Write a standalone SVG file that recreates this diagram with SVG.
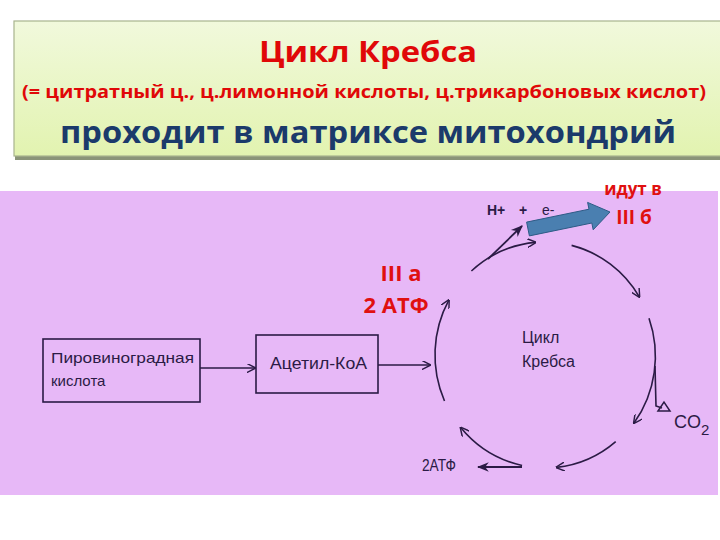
<svg xmlns="http://www.w3.org/2000/svg" width="720" height="540" viewBox="0 0 720 540">
<defs>
<linearGradient id="hdr" x1="0" y1="0" x2="0" y2="1">
<stop offset="0" stop-color="#f1f9dc"/>
<stop offset="1" stop-color="#e2f3b0"/>
</linearGradient>
<marker id="open" viewBox="0 0 10 10" refX="9" refY="5" markerWidth="9" markerHeight="9" markerUnits="userSpaceOnUse" orient="auto">
<path d="M0,0 L10,5 L0,10" fill="none" stroke="#2b1b45" stroke-width="1.6"/>
</marker>
<marker id="filled" viewBox="0 0 10 10" refX="9" refY="5" markerWidth="12" markerHeight="12" markerUnits="userSpaceOnUse" orient="auto">
<path d="M0,1 L10,5 L0,9 L3,5 Z" fill="#2b1b45"/>
</marker>
<style>
.hdr{font-family:"Open Sans","Liberation Sans",sans-serif;font-weight:bold}
.lbl{font-family:"Liberation Sans","DejaVu Sans",sans-serif;fill:#2b1b45}
.red{font-family:"Open Sans","Liberation Sans",sans-serif;font-weight:bold;fill:#e01010}
.box{fill:none;stroke:#2b1b45;stroke-width:1.6}
.arc{fill:none;stroke:#2b1b45;stroke-width:1.6;marker-end:url(#open)}
</style>
</defs>
<rect width="720" height="540" fill="#ffffff"/>
<g id="header">
<rect x="15" y="24" width="710" height="136" fill="#8a9478"/>
<rect x="14" y="21" width="710" height="135" fill="url(#hdr)" stroke="#a8b48e" stroke-width="1.2"/>
<text class="hdr" x="368" y="62" text-anchor="middle" font-size="29" fill="#e00808" textLength="218" lengthAdjust="spacingAndGlyphs">Цикл Кребса</text>
<text class="hdr" x="364" y="98" text-anchor="middle" font-size="17" fill="#e00808" textLength="684" lengthAdjust="spacingAndGlyphs">(= цитратный ц., ц.лимонной кислоты, ц.трикарбоновых кислот)</text>
<text class="hdr" x="368" y="143" text-anchor="middle" font-size="30" fill="#1b3a6b" textLength="616" lengthAdjust="spacingAndGlyphs">проходит в матриксе митохондрий</text>
</g>
<rect id="matrix" x="0" y="191" width="718" height="304" fill="#e7b8f7"/>
<g id="pyruvate">
<rect class="box" x="43" y="339" width="157" height="63"/>
<text class="lbl" x="51" y="363" font-size="15" textLength="143" lengthAdjust="spacingAndGlyphs">Пировиноградная</text>
<text class="lbl" x="51" y="386" font-size="15">кислота</text>
</g>
<g id="acetyl">
<rect class="box" x="256" y="335" width="122" height="58"/>
<text class="lbl" x="270" y="369" font-size="17" textLength="97" lengthAdjust="spacingAndGlyphs">Ацетил-КоА</text>
</g>
<g id="cycle-label">
<text class="lbl" x="522" y="343" font-size="16">Цикл</text>
<text class="lbl" x="522" y="367" font-size="16">Кребса</text>
</g>
<g id="connectors">
<path d="M200,368 H255" class="arc"/>
<path d="M378,365 H430" class="arc"/>
<path d="M444.5,401 A110 113 0 0 1 448.8,300.2" class="arc"/>
<path d="M471.4,271 A110 113 0 0 1 535.4,242.4" class="arc"/>
<path d="M571.6,245.4 A110 113 0 0 1 639.3,296.8" class="arc"/>
<path d="M649,318.2 A110 113 0 0 1 634,423" class="arc"/>
<path d="M615.7,441.6 A110 113 0 0 1 556.5,467.4" class="arc"/>
<path d="M522.1,465.5 A110 113 0 0 1 460.7,427.6" class="arc"/>
<path d="M488,259 L522,226" fill="none" stroke="#2b1b45" stroke-width="1.8" marker-end="url(#filled)"/>
<path d="M522,467 H478" fill="none" stroke="#2b1b45" stroke-width="1.8" marker-end="url(#filled)"/>
<path d="M655,366 L656,406 L662,408" fill="none" stroke="#2b1b45" stroke-width="1.6"/>
<path d="M658,411 L664,402 L670,411 Z" fill="none" stroke="#2b1b45" stroke-width="1.5"/>
</g>
<g id="products">
<text class="lbl" x="487" y="215" font-size="14" font-weight="bold" fill="#333">H+</text>
<text class="lbl" x="519" y="215" font-size="14" font-weight="bold" fill="#333">+</text>
<text class="lbl" x="542" y="215" font-size="14" fill="#333">e-</text>
<text class="lbl" x="422" y="471" font-size="17" textLength="34" lengthAdjust="spacingAndGlyphs">2АТФ</text>
<text class="lbl" x="674" y="428" font-size="18">CO<tspan font-size="15" dy="7">2</tspan></text>
</g>
<g id="blue-arrow">
<polygon points="526.6,222.1 589,209.2 587.6,202.4 610,212 593.2,229.8 591.8,223 529.4,235.9" fill="#4a7fb0" stroke="#2e5b86" stroke-width="1"/>
</g>
<g id="notes">
<text class="red" x="633" y="195" text-anchor="middle" font-size="17">идут в</text>
<text class="red" x="634" y="224" text-anchor="middle" font-size="19">III б</text>
<text class="red" x="401" y="281" text-anchor="middle" font-size="22">III а</text>
<text class="red" x="396" y="313" text-anchor="middle" font-size="22">2 АТФ</text>
</g>
</svg>
